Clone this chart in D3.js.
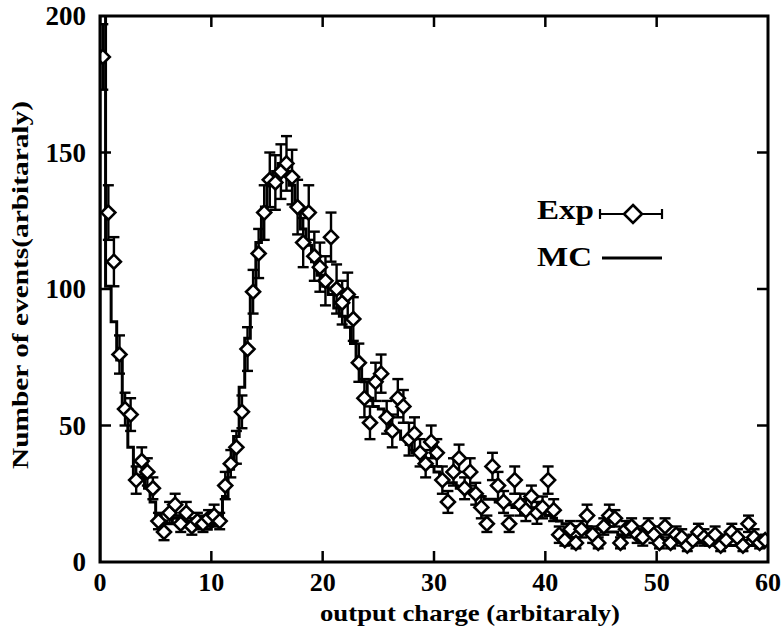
<!DOCTYPE html>
<html>
<head>
<meta charset="utf-8">
<script src="https://cdn.jsdelivr.net/npm/d3@7"></script>
<style>
  body { margin: 0; background: #fff; }
  text { font-family: "Liberation Serif", "Times New Roman", serif; font-weight: bold; fill: #000; }
</style>
</head>
<body>
<svg id="chart" width="783" height="633"></svg>
<script>
// Données (bins de 0.5)
const binWidth = 0.5

const expCounts = [
  185,128,110,76,56,54,30,37,33,27,
  15,11,18,21,14,18,13,15,14,16,
  17,15,28,36,42,55,78,99,113,128,
  140,139,143,146,141,130,117,128,112,108,
  103,119,100,95,98,89,73,60,51,66,
  69,53,48,60,57,45,47,40,36,44,
  40,30,22,33,38,27,33,25,20,14,
  35,28,22,14,30,21,19,24,18,20,
  30,19,10,8,12,7,12,17,10,7,
  13,17,16,7,12,13,10,9,13,10,
  7,13,7,10,9,6,8,11,9,8,
  10,6,8,11,9,6,14,9,7,8
]

const expErrors = [
  12,10,9,7,6,6,5,5,5,4,
  3,3,4,4,3,4,3,3,3,3,
  4,3,5,5,6,6,8,8,9,10,
  10,10,10,10,10,10,9,10,9,9,
  9,9,9,8,8,8,7,7,6,7,
  7,6,6,7,6,6,6,5,5,6,
  5,5,4,5,5,4,5,4,4,3,
  5,5,4,3,5,4,4,4,4,4,
  5,4,3,2,3,2,3,4,3,2,
  3,4,3,2,3,3,3,3,3,3,
  2,3,2,3,3,2,2,3,3,2,
  3,2,2,3,3,2,3,3,2,2
]

const mcCounts = [
  240,101,88,74,55,42,30,31,27,22,
  17,15,14,16,14,15,13,13,14,12,
  14,17,24,34,46,64,82,100,117,130,
  138,143,146,143,138,129,122,116,110,105,
  101,98,93,90,86,80,72,66,60,57,
  56,52,49,48,45,43,40,39,36,35,
  33,31,29,29,27,26,26,24,24,23,
  23,22,21,21,20,20,19,19,18,18,
  17,16,15,14,13,13,13,12,12,12,
  11,11,11,10,10,10,10,9,9,9,
  9,8,8,8,8,8,7,7,7,7,
  7,7,6,6,6,6,6,6,6,6
]

const xTicks = [0, 10, 20, 30, 40, 50, 60]
const yTicks = [0, 50, 100, 150, 200]

//---------------------------------------------------------------------------------------

const svg = d3.select('#chart')

const x = d3.scaleLinear().domain([0, 60]).range([100, 768])
const y = d3.scaleLinear().domain([0, 200]).range([562, 16])

svg.append('clipPath')
  .attr('id', 'clip')
  .append('rect')
  .attr('x', x(0)).attr('y', y(200))
  .attr('width', x(60) - x(0)).attr('height', y(0) - y(200))

const plot = svg.append('g').attr('clip-path', 'url(#clip)')

// Histogramme MC (marches)
const mcSteps = [{ x: 0, v: 0 }]
  .concat(mcCounts.map((v, i) => ({ x: i * binWidth, v: v })))
  .concat([{ x: mcCounts.length * binWidth, v: mcCounts[mcCounts.length - 1] }])

plot.append('path')
  .datum(mcSteps)
  .attr('fill', 'none')
  .attr('stroke', '#000')
  .attr('stroke-width', 3)
  .attr('d', d3.line().x(d => x(d.x)).y(d => y(d.v)).curve(d3.curveStepAfter))

// Points expérimentaux
const expData = expCounts.map((v, i) => ({ x: (i + 0.5) * binWidth, v: v, e: expErrors[i] }))

const capW = 5.5
const errG = plot.append('g').attr('stroke', '#000').attr('stroke-width', 2.4)

errG.selectAll('line.bar')
  .data(expData).join('line').attr('class', 'bar')
  .attr('x1', d => x(d.x)).attr('x2', d => x(d.x))
  .attr('y1', d => y(d.v - d.e)).attr('y2', d => y(d.v + d.e))

errG.selectAll('line.top')
  .data(expData).join('line').attr('class', 'top')
  .attr('x1', d => x(d.x) - capW).attr('x2', d => x(d.x) + capW)
  .attr('y1', d => y(d.v + d.e)).attr('y2', d => y(d.v + d.e))

errG.selectAll('line.bot')
  .data(expData).join('line').attr('class', 'bot')
  .attr('x1', d => x(d.x) - capW).attr('x2', d => x(d.x) + capW)
  .attr('y1', d => y(d.v - d.e)).attr('y2', d => y(d.v - d.e))

const diamond = (cx, cy, r) => `M${cx},${cy - r}L${cx + r},${cy}L${cx},${cy + r}L${cx - r},${cy}Z`

plot.append('g')
  .selectAll('path')
  .data(expData).join('path')
  .attr('d', d => diamond(x(d.x), y(d.v), 7))
  .attr('fill', '#fff')
  .attr('stroke', '#000')
  .attr('stroke-width', 2.6)

//---------------------------------------------------------------------------------------

// Cadre et graduations
svg.append('rect')
  .attr('x', x(0)).attr('y', y(200))
  .attr('width', x(60) - x(0)).attr('height', y(0) - y(200))
  .attr('fill', 'none').attr('stroke', '#000').attr('stroke-width', 3)

const tickLen = 11
const ticks = svg.append('g').attr('stroke', '#000').attr('stroke-width', 2.5)

xTicks.slice(1, -1).forEach(t => {
  ticks.append('line').attr('x1', x(t)).attr('x2', x(t)).attr('y1', y(0)).attr('y2', y(0) - tickLen)
  ticks.append('line').attr('x1', x(t)).attr('x2', x(t)).attr('y1', y(200)).attr('y2', y(200) + tickLen)
})
yTicks.slice(1, -1).forEach(t => {
  ticks.append('line').attr('x1', x(0)).attr('x2', x(0) + tickLen).attr('y1', y(t)).attr('y2', y(t))
  ticks.append('line').attr('x1', x(60)).attr('x2', x(60) - tickLen).attr('y1', y(t)).attr('y2', y(t))
})

svg.append('g').selectAll('text')
  .data(xTicks).join('text')
  .attr('x', d => x(d)).attr('y', 591)
  .attr('text-anchor', 'middle')
  .attr('font-size', 26)
  .text(d => d)

svg.append('g').selectAll('text')
  .data(yTicks).join('text')
  .attr('x', 86).attr('y', d => y(d) + 9)
  .attr('text-anchor', 'end')
  .attr('font-size', 27)
  .text(d => d)

// Titres des axes
svg.append('text')
  .attr('x', 320).attr('y', 621)
  .attr('font-size', 23)
  .attr('textLength', 300)
  .attr('lengthAdjust', 'spacingAndGlyphs')
  .text('output charge (arbitaraly)')

svg.append('text')
  .attr('transform', 'translate(28,285) rotate(-90)')
  .attr('text-anchor', 'middle')
  .attr('font-size', 24)
  .attr('textLength', 368)
  .attr('lengthAdjust', 'spacingAndGlyphs')
  .text('Number of events(arbitaraly)')

//---------------------------------------------------------------------------------------

// Légende
const leg = svg.append('g')

leg.append('text').attr('x', 537).attr('y', 219).attr('font-size', 28)
  .attr('textLength', 57).attr('lengthAdjust', 'spacingAndGlyphs').text('Exp')
leg.append('line').attr('x1', 600).attr('x2', 662).attr('y1', 214).attr('y2', 214)
  .attr('stroke', '#000').attr('stroke-width', 2.2)
;[600, 662].forEach(cx => {
  leg.append('line').attr('x1', cx).attr('x2', cx).attr('y1', 209).attr('y2', 219)
    .attr('stroke', '#000').attr('stroke-width', 2.2)
})
leg.append('path').attr('d', diamond(633, 214, 9))
  .attr('fill', '#fff').attr('stroke', '#000').attr('stroke-width', 2.6)

leg.append('text').attr('x', 537).attr('y', 266).attr('font-size', 28)
  .attr('textLength', 55).attr('lengthAdjust', 'spacingAndGlyphs').text('MC')
leg.append('line').attr('x1', 602).attr('x2', 662).attr('y1', 258).attr('y2', 258)
  .attr('stroke', '#000').attr('stroke-width', 3)
</script>
</body>
</html>
